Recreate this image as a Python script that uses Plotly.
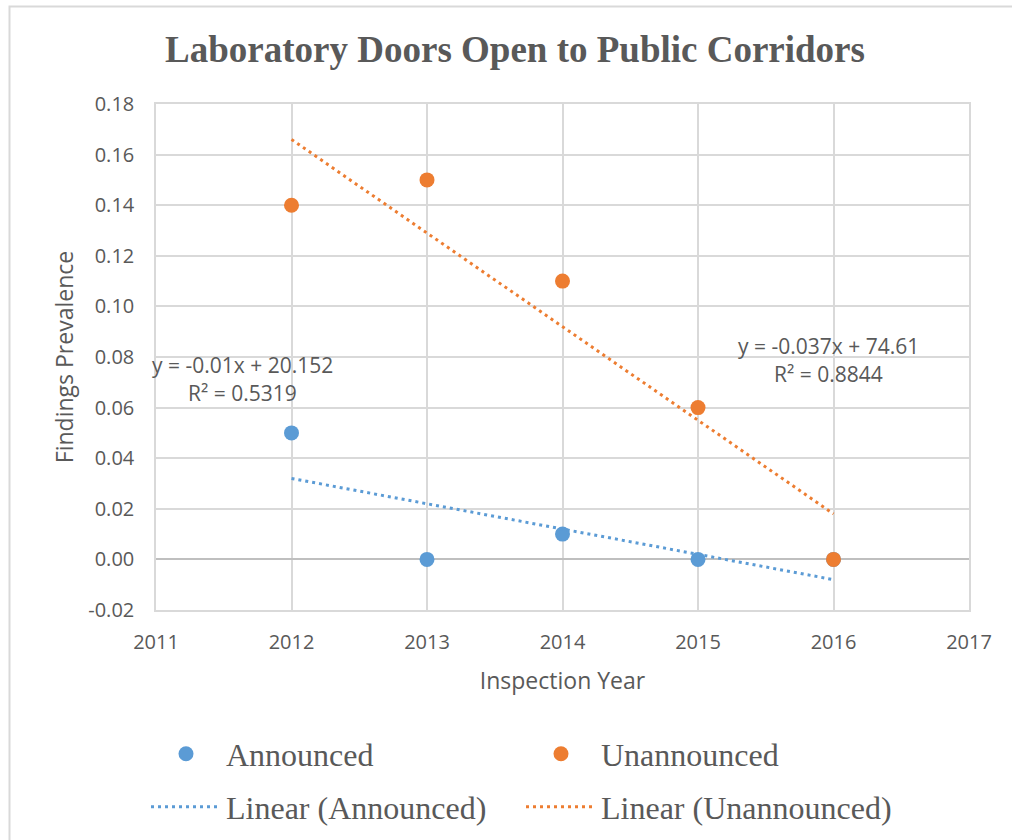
import numpy as np
import plotly.graph_objects as go

# ---- data ----
years = [2012, 2013, 2014, 2015, 2016]
announced = [0.05, 0.00, 0.01, 0.00, 0.00]
unannounced = [0.14, 0.15, 0.11, 0.06, 0.00]
x_ticks = [2011, 2012, 2013, 2014, 2015, 2016, 2017]
y_ticks = [-0.02, 0.00, 0.02, 0.04, 0.06, 0.08, 0.10, 0.12, 0.14, 0.16, 0.18]
title_text = "Laboratory Doors Open to Public Corridors"
eq_announced = ["y = -0.01x + 20.152", "R² = 0.5319"]
eq_unannounced = ["y = -0.037x + 74.61", "R² = 0.8844"]

BLUE = "#5B9BD5"
ORANGE = "#ED7D31"
TXT = "#595959"
GRID = "#D9D9D9"
SANS = "Open Sans"
SERIF = "Liberation Serif"

# linear fits from the data
xa = np.array(years, dtype=float)
pa = np.polyfit(xa, np.array(announced), 1)
pu = np.polyfit(xa, np.array(unannounced), 1)
trend_a = np.polyval(pa, xa)
trend_u = np.polyval(pu, xa)

fig = go.Figure()
fig.add_trace(go.Scatter(x=years, y=announced, mode="markers", name="Announced",
                         marker=dict(color=BLUE, size=15), legend="legend"))
fig.add_trace(go.Scatter(x=years, y=unannounced, mode="markers", name="Unannounced",
                         marker=dict(color=ORANGE, size=15), legend="legend"))
fig.add_trace(go.Scatter(x=years, y=trend_a, mode="lines", name="Linear (Announced)",
                         line=dict(color=BLUE, width=3, dash="3px,4px"), legend="legend2"))
fig.add_trace(go.Scatter(x=years, y=trend_u, mode="lines", name="Linear (Unannounced)",
                         line=dict(color=ORANGE, width=3, dash="3px,4px"), legend="legend2"))

W, H = 1012, 840
L, R, T, B = 156, 43, 104, 230
pw, ph = W - L - R, H - T - B

def px_x(p):
    return (p - L) / pw

def px_y(p):
    return (H - B - p) / ph

legend_common = dict(orientation="h", xanchor="left", yanchor="middle",
                     font=dict(family=SERIF, size=32, color=TXT),
                     itemwidth=70, entrywidth=290, entrywidthmode="pixels",
                     bgcolor="rgba(0,0,0,0)", traceorder="normal")

fig.update_layout(
    width=W, height=H,
    margin=dict(l=L, r=R, t=T, b=B, autoexpand=False),
    paper_bgcolor="white", plot_bgcolor="white",
    title=dict(text="<b>" + title_text + "</b>",
               font=dict(family=SERIF, size=37, color=TXT),
               x=515 / W, xanchor="center", xref="container",
               y=1 - 49 / H, yanchor="middle", yref="container"),
    showlegend=True,
    legend=dict(x=px_x(146), y=px_y(754), **legend_common),
    legend2=dict(x=px_x(146), y=px_y(807), **legend_common),
    xaxis=dict(range=[2011, 2017], tickvals=x_ticks, ticktext=[str(v) for v in x_ticks],
               showgrid=True, gridcolor=GRID, gridwidth=1.5,
               showline=True, linecolor=GRID, linewidth=1.5, mirror=True,
               zeroline=False, ticks="", ticklabelstandoff=13,
               tickfont=dict(family=SANS, size=20, color=TXT),
               title=dict(text="Inspection Year", font=dict(family=SANS, size=23, color=TXT),
                          standoff=19)),
    yaxis=dict(range=[-0.02, 0.18], tickvals=y_ticks,
               ticktext=[f"{v:.2f}" for v in y_ticks],
               showgrid=True, gridcolor=GRID, gridwidth=1.5,
               showline=True, linecolor=GRID, linewidth=1.5, mirror=True,
               zeroline=True, zerolinecolor="#BFBFBF", zerolinewidth=2,
               ticks="", ticklabelstandoff=16,
               tickfont=dict(family=SANS, size=20, color=TXT),
               title=dict(text="Findings Prevalence", font=dict(family=SANS, size=23, color=TXT),
                          standoff=8)),
    shapes=[dict(type="rect", xref="paper", yref="paper",
                 x0=px_x(9.5), x1=px_x(1020), y0=px_y(850), y1=px_y(6.5),
                 line=dict(color=GRID, width=2), fillcolor="rgba(0,0,0,0)", layer="below")],
)

ann_font = dict(family=SANS, size=21, color=TXT)
for txt, cx, cy in [(eq_announced[0], 242, 365), (eq_announced[1], 242, 393),
                    (eq_unannounced[0], 828, 346), (eq_unannounced[1], 828, 374)]:
    fig.add_annotation(text=txt, xref="paper", yref="paper", x=px_x(cx), y=px_y(cy),
                       xanchor="center", yanchor="middle", showarrow=False, font=ann_font)

fig.write_html("out.html", config={"displayModeBar": False},
               post_script="document.body.style.margin='0px';document.body.style.overflow='hidden';")
